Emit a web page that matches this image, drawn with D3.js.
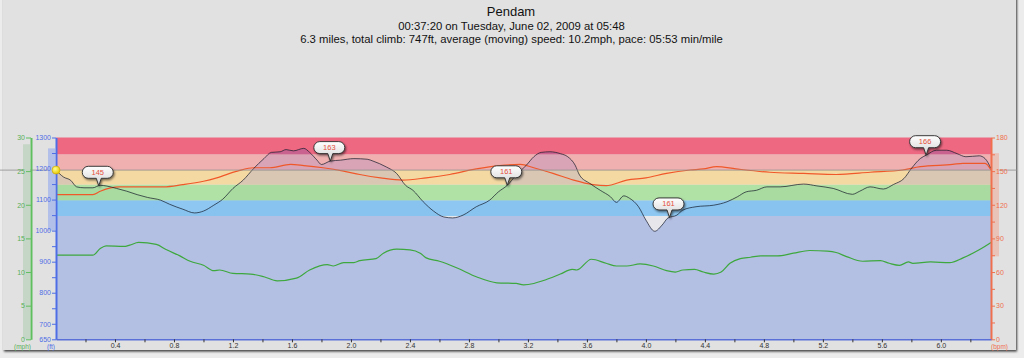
<!DOCTYPE html>
<html><head><meta charset="utf-8">
<script src="https://cdn.jsdelivr.net/npm/d3@7"></script>
<style>body{margin:0;background:#ececec;} svg{display:block}</style>
</head><body><svg id="c" width="1024" height="358"></svg>
<script>
const titleText = "Pendam";
const subtitle1 = "00:37:20 on Tuesday, June 02, 2009 at 05:48";
const subtitle2 = "6.3 miles, total climb: 747ft, average (moving) speed: 10.2mph, pace: 05:53 min/mile";

const elevDist = [0,0.05,0.1,0.14,0.19,0.25,0.3,0.34,0.41,0.48,0.55,0.62,0.71,0.77,0.86,0.94,1.0,1.07,1.13,1.2,1.27,1.34,1.41,1.46,1.52,1.56,1.61,1.68,1.72,1.77,1.8,1.86,1.93,2.02,2.11,2.15,2.24,2.31,2.37,2.42,2.49,2.56,2.63,2.69,2.76,2.85,2.94,3.0,3.06,3.12,3.19,3.24,3.29,3.35,3.42,3.47,3.52,3.55,3.62,3.69,3.76,3.8,3.85,3.89,3.95,4.0,4.06,4.11,4.15,4.21,4.25,4.34,4.46,4.55,4.62,4.68,4.75,4.82,4.91,5.07,5.16,5.27,5.4,5.45,5.52,5.61,5.68,5.75,5.8,5.86,5.9,5.97,6.04,6.11,6.17,6.26,6.3,6.34];
const elevFt = [1195,1173,1162,1141,1138,1138,1146,1144,1136,1127,1116,1107,1098,1085,1069,1057,1063,1082,1101,1136,1163,1200,1232,1252,1254,1261,1257,1265,1252,1227,1213,1224,1227,1232,1230,1224,1205,1184,1146,1130,1093,1063,1044,1041,1050,1077,1098,1125,1146,1179,1211,1238,1252,1254,1248,1238,1211,1179,1152,1130,1109,1091,1112,1104,1077,1034,998,1018,1041,1050,1066,1077,1082,1093,1109,1125,1130,1141,1141,1150,1144,1136,1117,1127,1141,1134,1149,1168,1200,1232,1243,1259,1259,1248,1238,1241,1232,1200];

const hrDist = [0,0.25,0.3,0.37,0.43,0.73,0.86,1.0,1.09,1.23,1.34,1.45,1.59,1.68,1.81,1.95,2.06,2.2,2.35,2.51,2.67,2.85,3.01,3.15,3.24,3.37,3.51,3.64,3.73,3.87,4.0,4.14,4.3,4.39,4.48,4.61,4.84,5.07,5.29,5.52,5.74,5.86,6.08,6.15,6.3,6.34];
const hrBpm = [129,129,132,135,136,136,138,141,144,150,153,153,156,155,153,150,147,144,142,144,147,152,155,156,153,148,142,138,137,142,144,148,151,152,154,152,149,148,147,149,151,154,156,157,157,151];

const speedDist = [0,0.25,0.3,0.34,0.46,0.5,0.56,0.68,0.75,0.84,0.91,1.0,1.07,1.11,1.2,1.32,1.41,1.5,1.63,1.72,1.84,1.88,1.95,2.02,2.06,2.17,2.22,2.31,2.4,2.47,2.51,2.6,2.72,2.85,2.99,3.12,3.17,3.24,3.3,3.42,3.5,3.53,3.63,3.73,3.8,3.87,3.96,4.05,4.14,4.2,4.25,4.33,4.39,4.46,4.51,4.57,4.64,4.71,4.78,4.89,5.0,5.11,5.23,5.29,5.36,5.47,5.59,5.65,5.72,5.78,5.81,5.93,6.06,6.15,6.26,6.34];
const speedMph = [12.5,12.5,13.5,13.9,13.8,14.0,14.4,14.1,13.3,12.4,11.6,11.0,10.2,10.3,9.8,9.7,9.3,8.7,9.1,10.3,11.1,10.9,11.4,11.4,11.7,12.0,12.8,13.4,13.3,12.8,12.1,11.6,10.6,9.3,8.4,8.3,8.1,8.3,8.7,9.7,10.4,10.3,11.9,11.3,10.9,10.9,11.2,10.9,10.2,10.0,10.3,10.4,10.0,9.7,10.0,11.3,12.0,12.2,12.4,12.4,12.8,13.2,13.1,12.9,12.3,11.6,11.7,11.3,11.0,11.5,11.3,11.5,11.4,12.1,13.3,14.4];

const markerDist = [0.29, 1.86, 3.06, 4.16, 5.90];
const markerBpm = [145, 163, 161, 161, 166];

const zoneLow = [0, 110, 124, 138, 151, 165];
const zoneHigh = [110, 124, 138, 151, 165, 180];
const zoneColors = ["#e7e7eb", "#8ec8f2", "#b0e1a5", "#f5d9a3", "#f0b0b0", "#ee6882"];
const zoneUnderColors = ["#b4bfe4", "#88c3f0", "#a9dba1", "#d9c7b4", "#d8a4b6", "#c9628f"];

const speedRange = [0, 29];
const elevRange = [1000, 1265];
const hrRange = [74, 166];

const distTicks = [0.2,0.4,0.6,0.8,1.0,1.2,1.4,1.6,1.8,2.0,2.2,2.4,2.6,2.8,3.0,3.2,3.4,3.6,3.8,4.0,4.2,4.4,4.6,4.8,5.0,5.2,5.4,5.6,5.8,6.0,6.2];
const distLabels = [0.4,0.8,1.2,1.6,2.0,2.4,2.8,3.2,3.6,4.0,4.4,4.8,5.2,5.6,6.0];
const elevTicks = [650,700,750,800,850,900,950,1000,1050,1100,1150,1200,1250,1300];
const elevLabels = [650,700,800,900,1000,1100,1200,1300];
const hrTicks = [0,15,30,45,60,75,90,105,120,135,150,165,180];
const hrLabels = [0,30,60,90,120,150,180];
const speedTicks = [0,5,10,15,20,25,30];

const FONT = "'Lucida Grande','Liberation Sans',Arial,sans-serif";
const svg = d3.select("#c");
const defs = svg.append("defs");

const sh = defs.append("filter").attr("id","psh").attr("x","-5%").attr("y","-5%").attr("width","110%").attr("height","110%");
sh.append("feDropShadow").attr("dx",1).attr("dy",1.5).attr("stdDeviation",1).attr("flood-color","#000").attr("flood-opacity",0.75);
const bsh = defs.append("filter").attr("id","bsh").attr("x","-30%").attr("y","-30%").attr("width","160%").attr("height","180%");
bsh.append("feDropShadow").attr("dx",1).attr("dy",1.5).attr("stdDeviation",0.8).attr("flood-color","#000").attr("flood-opacity",0.55);
const bg = defs.append("linearGradient").attr("id","bgr").attr("x1",0).attr("y1",0).attr("x2",0).attr("y2",1);
bg.append("stop").attr("offset","0%").attr("stop-color","#ffffff");
bg.append("stop").attr("offset","100%").attr("stop-color","#d2d2d2");
const yg = defs.append("radialGradient").attr("id","ydot").attr("cx","40%").attr("cy","35%").attr("r","65%");
yg.append("stop").attr("offset","0%").attr("stop-color","#ffff90");
yg.append("stop").attr("offset","100%").attr("stop-color","#e8c800");

// panel
svg.append("rect").attr("x",3).attr("y",-6).attr("width",1013).attr("height",356)
  .attr("fill","#e1e1e1").attr("filter","url(#psh)");

const x = d3.scaleLinear().domain([0, 6.34]).range([56, 991]);
const yE = d3.scaleLinear().domain([650, 1300]).range([339.3, 137.5]);
const yH = d3.scaleLinear().domain([0, 180]).range([339.3, 137.5]);
const yS = d3.scaleLinear().domain([0, 30]).range([339.3, 137.5]);

const elevData = elevDist.map((d,i)=>[d, elevFt[i]]);
const hrData = hrDist.map((d,i)=>[d, hrBpm[i]]);
const spData = speedDist.map((d,i)=>[d, speedMph[i]]);
const curve = d3.curveMonotoneX;
const elevArea = d3.area().curve(curve).x(d=>x(d[0])).y0(yE(650)).y1(d=>yE(d[1]));

defs.append("clipPath").attr("id","under").append("path").datum(elevData).attr("d", elevArea);

// zones above the profile
svg.append("g").selectAll("rect").data(zoneLow).join("rect")
  .attr("x", x(0)).attr("width", x(6.34)-x(0))
  .attr("y", (d,i)=>yH(zoneHigh[i])).attr("height",(d,i)=>yH(d)-yH(zoneHigh[i]))
  .attr("fill",(d,i)=>zoneColors[i]);
// zones under the profile
svg.append("g").attr("clip-path","url(#under)").selectAll("rect").data(zoneLow).join("rect")
  .attr("x", x(0)).attr("width", x(6.34)-x(0))
  .attr("y", (d,i)=>yH(zoneHigh[i])).attr("height",(d,i)=>yH(d)-yH(zoneHigh[i]))
  .attr("fill",(d,i)=>zoneUnderColors[i]);

svg.append("path").datum(spData)
  .attr("d", d3.line().curve(curve).x(d=>x(d[0])).y(d=>yS(d[1])))
  .attr("fill","none").attr("stroke","#3da83d").attr("stroke-width",1.2);

svg.append("path").datum(hrData)
  .attr("d", d3.line().curve(curve).x(d=>x(d[0])).y(d=>yH(d[1])))
  .attr("fill","none").attr("stroke","#f0582a").attr("stroke-width",1.2);

svg.append("path").datum(elevData)
  .attr("d", d3.line().curve(curve).x(d=>x(d[0])).y(d=>yE(d[1])))
  .attr("fill","none").attr("stroke","rgba(20,25,40,0.7)").attr("stroke-width",1);

// crosshair
const y0 = yE(elevFt[0]);
svg.append("line").attr("x1",0).attr("x2",1017).attr("y1",y0).attr("y2",y0)
  .attr("stroke","#8e8e8e").attr("stroke-width",1).attr("opacity",0.8);

// range bars
svg.append("rect").attr("x",23).attr("width",7).attr("y",yS(speedRange[1])).attr("height",yS(speedRange[0])-yS(speedRange[1]))
  .attr("fill","#c6d6c6");
svg.append("rect").attr("x",48).attr("width",7).attr("y",yE(elevRange[1])).attr("height",yE(elevRange[0])-yE(elevRange[1]))
  .attr("fill","#b2bfe8");
svg.append("rect").attr("x",992).attr("width",7).attr("y",yH(hrRange[1])).attr("height",yH(hrRange[0])-yH(hrRange[1]))
  .attr("fill","#e9c2b8");

function styleAxis(g, color, lw){
  g.select(".domain").attr("stroke",color).attr("stroke-width",lw);
  g.selectAll(".tick line").attr("stroke",color);
  g.selectAll(".tick text").attr("fill",color).style("font-family",FONT).style("font-size","7px");
}

const gS = svg.append("g").attr("transform","translate(31,0)")
  .call(d3.axisLeft(yS).tickValues(speedTicks).tickSize(5).tickSizeOuter(0).tickPadding(1).tickFormat(d=>d));
styleAxis(gS, "#5fbf5f", 2);
gS.selectAll(".tick text").attr("fill","#58b058");

const gE = svg.append("g").attr("transform","translate(56,0)")
  .call(d3.axisLeft(yE).tickValues(elevTicks).tickSize(4).tickSizeOuter(0).tickPadding(1)
    .tickFormat(d=>elevLabels.includes(d)?d:""));
styleAxis(gE, "#4e6ee6", 2);

const gH = svg.append("g").attr("transform","translate(991,0)")
  .call(d3.axisRight(yH).tickValues(hrTicks).tickSize(4).tickSizeOuter(0).tickPadding(1)
    .tickFormat(d=>hrLabels.includes(d)?d:""));
styleAxis(gH, "#f0704e", 2);

const gX = svg.append("g").attr("transform",`translate(0,${yE(650)})`)
  .call(d3.axisBottom(x).tickValues(distTicks).tickSize(3).tickSizeOuter(0).tickPadding(1)
    .tickFormat(d=>distLabels.some(v=>Math.abs(v-d)<1e-9)?d3.format(".1f")(d):""));
gX.select(".domain").attr("stroke","#5a70d8").attr("stroke-width",1.5);
gX.selectAll(".tick line").attr("stroke","#333");
gX.selectAll(".tick text").attr("fill","#333").style("font-family",FONT).style("font-size","7px");

const unitY = 349;
svg.append("text").attr("x",22.5).attr("y",unitY).attr("text-anchor","middle").attr("fill","#58b058")
  .style("font-family",FONT).style("font-size","6.5px").text("(mph)");
svg.append("text").attr("x",55).attr("y",unitY).attr("text-anchor","end").attr("fill","#4e6ee6")
  .style("font-family",FONT).style("font-size","6.5px").text("(ft)");
svg.append("text").attr("x",999.5).attr("y",unitY).attr("text-anchor","middle").attr("fill","#f0704e")
  .style("font-family",FONT).style("font-size","6.5px").text("(bpm)");

// markers
const interpElev = d3.scaleLinear().domain(elevDist).range(elevFt);
const mg = svg.append("g");
markerDist.forEach((m,i)=>{
  const tx = x(m), ty = yE(interpElev(m));
  const cx = tx - 1, cy = ty - 13.5, w = 31, h = 12, r = h/2;
  const l = cx - w/2, rr = cx + w/2, t = cy - h/2, b = cy + h/2;
  const p = `M${l+r},${t} H${rr-r} A${r},${r} 0 0 1 ${rr-r},${b} H${cx+3.5} L${tx},${ty} L${cx-1.5},${b} H${l+r} A${r},${r} 0 0 1 ${l+r},${t} Z`;
  mg.append("path").attr("d",p).attr("fill","url(#bgr)").attr("stroke","#2a2a2a").attr("stroke-width",0.9).attr("filter","url(#bsh)");
  mg.append("text").attr("x",cx).attr("y",cy+2.5).attr("text-anchor","middle").attr("fill","#e4503c")
    .style("font-family",FONT).style("font-size","7.5px").text(markerBpm[i]);
});

svg.append("circle").attr("cx",x(0)).attr("cy",y0).attr("r",4).attr("fill","url(#ydot)").attr("stroke","#c9a400").attr("stroke-width",0.6);

svg.append("text").attr("x",511).attr("y",16).attr("text-anchor","middle").attr("fill","#111")
  .style("font-family",FONT).style("font-size","13px").text(titleText);
svg.append("text").attr("x",511.5).attr("y",29.5).attr("text-anchor","middle").attr("fill","#111")
  .style("font-family",FONT).style("font-size","11.3px").text(subtitle1);
svg.append("text").attr("x",511.5).attr("y",43).attr("text-anchor","middle").attr("fill","#111")
  .style("font-family",FONT).style("font-size","11.3px").text(subtitle2);
</script></body></html>
